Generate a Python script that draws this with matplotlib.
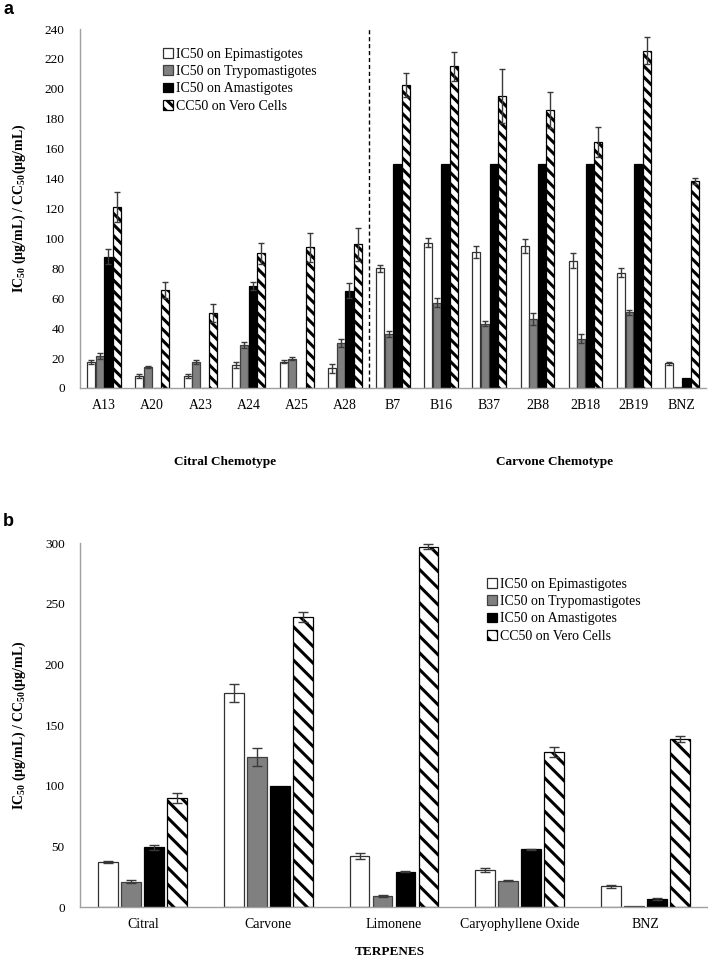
import matplotlib
matplotlib.use("Agg")
import matplotlib.pyplot as plt
import numpy as np

plt.rcParams['font.family'] = ['Liberation Serif', 'DejaVu Serif']
plt.rcParams['mathtext.fontset'] = 'custom'
plt.rcParams['mathtext.rm'] = 'Liberation Serif'
plt.rcParams['mathtext.bf'] = 'Liberation Serif:bold'
plt.rcParams['hatch.linewidth'] = 2.2

# ---------------- Panel a data ----------------
cats_a = ["A13", "A20", "A23", "A24", "A25", "A28", "B7", "B16", "B37", "2B8", "2B18", "2B19", "BNZ"]
epi_a = [17.5, 8.2, 8.2, 15.6, 17.7, 13.3, 80, 97, 91, 95, 85, 77, 16.6]
epi_a_err = [1.5, 1.2, 1.2, 2.0, 0.8, 3.0, 2.5, 3, 4, 4.5, 5, 3, 1]
try_a = [21.4, 14, 17.5, 28.7, 19.6, 30, 36, 57, 43, 46, 33, 50.5, 1]
try_a_err = [1.8, 0.8, 1.5, 2.0, 0.8, 2.5, 2.2, 3, 1.5, 4, 3, 1.5, 0]
ama_a = [87.6, 0, 0, 68.4, 0, 65, 150, 150, 150, 150, 150, 150, 6.6]
ama_a_err = [5, 0, 0, 2.7, 0, 5, 0, 0, 0, 0, 0, 0, 0]
cc_a = [121, 65.5, 50, 90, 94, 96, 202.5, 215, 195, 186, 164.6, 225.5, 138.4]
cc_a_err = [10, 5.5, 6, 7, 9.5, 11, 8, 9.5, 18, 12, 10, 9, 2]
groups_a = ["Citral Chemotype", "Carvone Chemotype"]

# ---------------- Panel b data ----------------
cats_b = ["Citral", "Carvone", "Limonene", "Caryophyllene Oxide", "BNZ"]
epi_b = [37.3, 176.7, 42, 30.2, 17]
epi_b_err = [1, 7.4, 2.2, 1.6, 1]
try_b = [20.9, 123.6, 9.3, 21.7, 1]
try_b_err = [1, 7.7, 0.8, 0.3, 0]
ama_b = [49.2, 100, 29, 47.5, 6.6]
ama_b_err = [2, 0, 0.3, 0.5, 0.5]
cc_b = [90, 239.3, 297, 128, 138.2]
cc_b_err = [4, 4, 2, 4, 2.5]
xlabel_b = "TERPENES"

legend_labels = ["IC50 on Epimastigotes", "IC50 on Trypomastigotes",
                 "IC50 on Amastigotes", "CC50 on Vero Cells"]

W, H = 708, 959
fig = plt.figure(figsize=(W / 100, H / 100), dpi=100)

def fx(px):
    return px / W

def fy(py):
    return 1 - py / H

ax_a = fig.add_axes([fx(80), fy(388), fx(706) - fx(80), fy(29) - fy(388)])
ax_b = fig.add_axes([fx(80), fy(907), fx(708) - fx(80), fy(543) - fy(907)])

ecol = '#3a3a3a'

def draw(ax, cats, series, errs, step, width, hatch, hlw, capsize, ebar_lw):
    x = np.arange(len(cats))
    styles = [dict(facecolor='white', edgecolor='#303030'),
              dict(facecolor='#808080', edgecolor='#404040'),
              dict(facecolor='black', edgecolor='black'),
              dict(facecolor='white', edgecolor='black', hatch=hatch)]
    handles = []
    for i, (vals, er, st) in enumerate(zip(series, errs, styles)):
        pos = x + (i - 1.5) * step
        with plt.rc_context({'hatch.linewidth': hlw}):
            bars = ax.bar(pos, vals, width=width, linewidth=0.9, zorder=2, **st)
        for b in bars:
            if hasattr(b, 'set_hatch_linewidth') and st.get('hatch'):
                b.set_hatch_linewidth(hlw)
        handles.append(bars)
        er = np.array(er, dtype=float)
        v = np.array(vals, dtype=float)
        mask = er > 0
        ax.errorbar(pos[mask], v[mask], yerr=er[mask], fmt='none', ecolor=ecol,
                    elinewidth=ebar_lw, capsize=capsize, capthick=ebar_lw, zorder=3)
    ax.set_xticks(x)
    ax.set_xticklabels(cats, fontsize=10)
    ax.set_xlim(-0.5, len(cats) - 0.5)
    for s in ['top', 'right']:
        ax.spines[s].set_visible(False)
    for s in ['left', 'bottom']:
        ax.spines[s].set_color('#a0a0a0')
        ax.spines[s].set_linewidth(1.0)
    ax.tick_params(axis='both', length=0, labelsize=9.5)
    ax.tick_params(axis='x', labelsize=10, pad=8)
    ax.tick_params(axis='y', pad=11)
    return handles

ylab = r'IC$_{\mathbf{50}}$ (µg/mL) / CC$_{\mathbf{50}}$(µg/mL)'

# Panel a
h_a = draw(ax_a, cats_a, [epi_a, try_a, ama_a, cc_a], [epi_a_err, try_a_err, ama_a_err, cc_a_err],
           step=0.178, width=0.165, hatch='\\\\\\', hlw=2.2, capsize=2.5, ebar_lw=1.0)
ax_a.set_ylim(0, 240)
ax_a.set_yticks(np.arange(0, 241, 20))
ax_a.axvline(5.5, color='black', linestyle=(0, (3, 2)), linewidth=1.0, zorder=1)
ax_a.set_ylabel(ylab, fontsize=10, fontweight='bold', labelpad=12)
ax_a.legend(h_a, legend_labels, loc='upper left', bbox_to_anchor=(fx(163), fy(48)),
            bbox_transform=fig.transFigure, frameon=False, fontsize=10,
            handlelength=0.7, handleheight=0.7, handletextpad=0.25,
            labelspacing=0.3, borderpad=0, borderaxespad=0)
fig.text(fx(225), fy(462), groups_a[0], ha='center', va='center', fontsize=9.5, fontweight='bold')
fig.text(fx(555), fy(462), groups_a[1], ha='center', va='center', fontsize=9.5, fontweight='bold')
fig.text(fx(3), fy(10), 'a', ha='left', va='center', fontsize=13, fontweight='bold',
         family=['Liberation Sans', 'DejaVu Sans'])

# Panel b
h_b = draw(ax_b, cats_b, [epi_b, try_b, ama_b, cc_b], [epi_b_err, try_b_err, ama_b_err, cc_b_err],
           step=0.183, width=0.158, hatch='\\\\', hlw=2.2, capsize=3.3, ebar_lw=1.0)
ax_b.set_ylim(0, 300)
ax_b.set_yticks(np.arange(0, 301, 50))
ax_b.set_ylabel(ylab, fontsize=10, fontweight='bold', labelpad=12)
ax_b.legend(h_b, legend_labels, loc='upper left', bbox_to_anchor=(fx(487), fy(578)),
            bbox_transform=fig.transFigure, frameon=False, fontsize=10,
            handlelength=0.7, handleheight=0.7, handletextpad=0.25,
            labelspacing=0.3, borderpad=0, borderaxespad=0)
fig.text(fx(390), fy(952), xlabel_b, ha='center', va='center', fontsize=9.5, fontweight='bold')
fig.text(fx(3), fy(522), 'b', ha='left', va='center', fontsize=13, fontweight='bold',
         family=['Liberation Sans', 'DejaVu Sans'])

fig.savefig('out.png', dpi=100)
